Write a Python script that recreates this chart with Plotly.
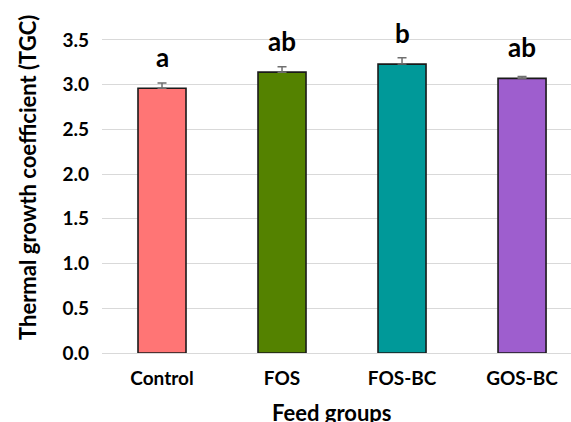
import plotly.graph_objects as go

categories = ["Control", "FOS", "FOS-BC", "GOS-BC"]
tgc_values = [2.96, 3.14, 3.23, 3.07]
tgc_errors = [0.06, 0.06, 0.07, 0.02]
sig_letters = ["a", "ab", "b", "ab"]
bar_colors = ["#FF7575", "#548200", "#009999", "#9E5ECE"]
y_ticks = [0.0, 0.5, 1.0, 1.5, 2.0, 2.5, 3.0, 3.5]

W, H = 571, 422
L, R, T, B = 102, 0, 31, 69
FONT = "Lato"

fig = go.Figure()
fig.add_trace(go.Bar(
    x=categories, y=tgc_values,
    marker=dict(color=bar_colors, line=dict(color="#1a1a1a", width=1.6)),
    error_y=dict(type="data", array=tgc_errors, arrayminus=[0] * len(tgc_errors),
                 symmetric=False, visible=True,
                 color="#6f6f6f", thickness=1.5, width=4.5),
    width=0.4,
))

for c, v, e, t in zip(categories, tgc_values, tgc_errors, sig_letters):
    fig.add_annotation(x=c, y=v, text=f"<b>{t}</b>", showarrow=False,
                       yanchor="bottom", yshift=13,
                       font=dict(family=FONT, size=26, color="#000000"))

plot_w = W - L - R
plot_h = H - T - B
fig.add_annotation(xref="paper", yref="paper",
                   x=(332 - L) / plot_w, y=(H - B - 413) / plot_h,
                   text="<b>Feed groups</b>", showarrow=False,
                   xanchor="center", yanchor="middle",
                   font=dict(family=FONT, size=22, color="#000000"))
fig.add_annotation(xref="paper", yref="paper",
                   x=(27 - L) / plot_w, y=(H - B - 178) / plot_h,
                   text="<b>Thermal growth coefficient (TGC)</b>", showarrow=False,
                   textangle=-90, xanchor="center", yanchor="middle",
                   font=dict(family=FONT, size=22, color="#000000"))

fig.update_layout(
    width=W, height=H,
    margin=dict(l=L, r=R, t=T, b=B, pad=0),
    paper_bgcolor="white", plot_bgcolor="white",
    showlegend=False,
    font=dict(family=FONT, color="#000000"),
    xaxis=dict(type="category", range=[-0.5, 3.408], showgrid=False,
               showline=False, ticks="", ticklabelstandoff=12,
               tickfont=dict(family=FONT, size=19, color="#000000", weight="bold")),
    yaxis=dict(range=[0, 3.6], tickvals=y_ticks,
               ticktext=[f"{v:.1f}" for v in y_ticks],
               showgrid=True, gridcolor="#D9D9D9", gridwidth=1,
               zeroline=True, zerolinecolor="#D9D9D9", zerolinewidth=1,
               showline=False, ticks="", ticklabelstandoff=12,
               tickfont=dict(family=FONT, size=19, color="#000000", weight="bold")),
)

fig.write_html("out.html")
